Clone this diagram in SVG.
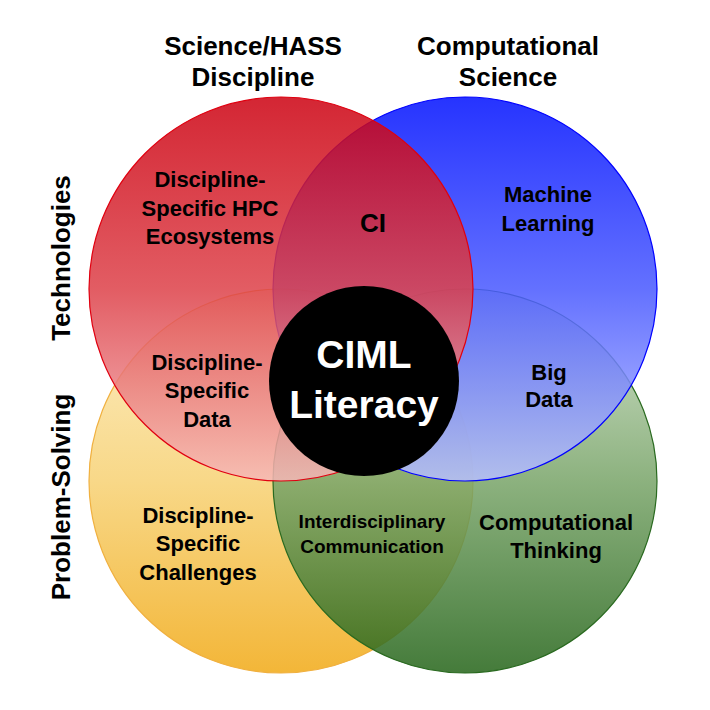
<svg xmlns="http://www.w3.org/2000/svg" width="710" height="710" viewBox="0 0 710 710">
<defs>
<linearGradient id="gRed" x1="0" y1="0" x2="0" y2="1">
<stop offset="0" stop-color="#cc0010"/>
<stop offset="0.5" stop-color="#dd4048"/>
<stop offset="1" stop-color="#f6b8b8"/>
</linearGradient>
<linearGradient id="gBlue" x1="0" y1="0" x2="0" y2="1">
<stop offset="0" stop-color="#0010ff"/>
<stop offset="0.5" stop-color="#4858ff"/>
<stop offset="1" stop-color="#b8c0ff"/>
</linearGradient>
<linearGradient id="gYellow" x1="0" y1="0" x2="0" y2="1">
<stop offset="0" stop-color="#fdefc8"/>
<stop offset="0.5" stop-color="#f8d888"/>
<stop offset="1" stop-color="#f3b638"/>
</linearGradient>
<linearGradient id="gGreen" x1="0" y1="0" x2="0" y2="1">
<stop offset="0" stop-color="#cfe0c8"/>
<stop offset="0.5" stop-color="#78a468"/>
<stop offset="1" stop-color="#246418"/>
</linearGradient>
</defs>
<style>
text{font-family:"Liberation Sans",Arial,sans-serif;font-weight:bold;text-anchor:middle;fill:#000}
.h{font-size:26px}
.l{font-size:22px}
.w{fill:#fff;font-size:39px}
</style>
<rect width="710" height="710" fill="#fff"/>
<g id="yellow"><circle cx="281" cy="481" r="192" fill="url(#gYellow)" stroke="#f0b040" stroke-width="1.2"/></g>
<g id="green"><circle cx="465" cy="481" r="192" fill="url(#gGreen)" fill-opacity="0.85" stroke="#2a6a20" stroke-width="1.2"/></g>
<g id="blue"><circle cx="465" cy="289" r="192" fill="url(#gBlue)" fill-opacity="0.85" stroke="#0000ff" stroke-width="1.2"/></g>
<g id="red"><circle cx="281" cy="289" r="192" fill="url(#gRed)" fill-opacity="0.85" stroke="#e00010" stroke-width="1.2"/></g>
<g id="center"><circle cx="364" cy="381" r="95" fill="#000"/>
<text class="w" x="364" y="368">CIML</text>
<text class="w" x="364" y="418">Literacy</text></g>
<g id="titles">
<text class="h" x="253" y="55">Science/HASS</text>
<text class="h" x="253" y="86">Discipline</text>
<text class="h" x="508" y="55">Computational</text>
<text class="h" x="508" y="86">Science</text>
<text class="h" transform="translate(70,258) rotate(-90)">Technologies</text>
<text class="h" transform="translate(70,497) rotate(-90)">Problem-Solving</text>
</g>
<g id="labels">
<text class="l" x="210" y="187">Discipline-</text>
<text class="l" x="210" y="216">Specific HPC</text>
<text class="l" x="210" y="244">Ecosystems</text>
<text class="h" x="373" y="232">CI</text>
<text class="l" x="548" y="202">Machine</text>
<text class="l" x="548" y="231">Learning</text>
<text class="l" x="207" y="370">Discipline-</text>
<text class="l" x="207" y="398">Specific</text>
<text class="l" x="207" y="427">Data</text>
<text class="l" x="549" y="380">Big</text>
<text class="l" x="549" y="407">Data</text>
<text class="l" x="198" y="523">Discipline-</text>
<text class="l" x="198" y="551">Specific</text>
<text class="l" x="198" y="580">Challenges</text>
<text x="372" y="528" style="font-size:19px">Interdisciplinary</text>
<text x="372" y="553" style="font-size:19px">Communication</text>
<text class="l" x="556" y="530">Computational</text>
<text class="l" x="556" y="558">Thinking</text>
</g>
</svg>
